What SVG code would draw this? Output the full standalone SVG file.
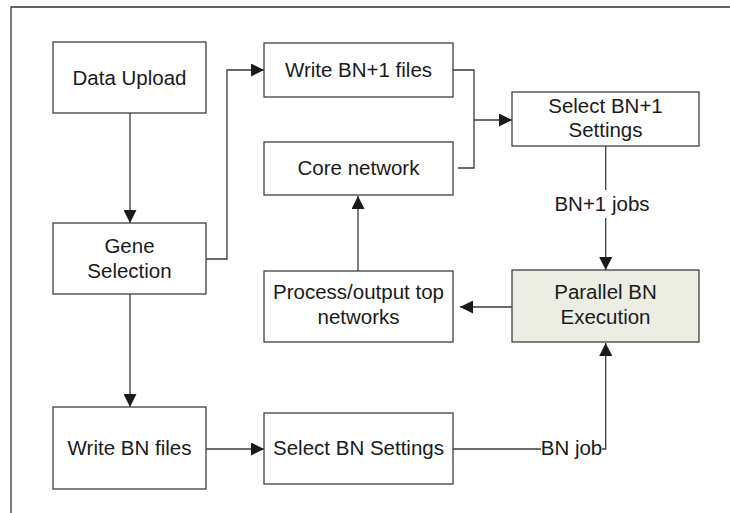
<svg xmlns="http://www.w3.org/2000/svg" width="730" height="513" viewBox="0 0 730 513">
<defs>
<marker id="ah" markerUnits="userSpaceOnUse" markerWidth="13" markerHeight="13" refX="13" refY="6.5" orient="auto">
<path d="M0,0 L13,6.5 L0,13 z" fill="#1a1a1a"/>
</marker>
<style>
.box{fill:#ffffff;stroke:#404040;stroke-width:1.3}
.hl{fill:#eceee4}
.t{font-family:"Liberation Sans",Arial,sans-serif;font-size:20.5px;fill:#1a1a1a;text-anchor:middle}
.c{fill:none;stroke:#3a3a3a;stroke-width:1.3}
.a{marker-end:url(#ah)}
</style>
</defs>
<rect x="0" y="0" width="730" height="513" fill="#ffffff"/>
<path d="M11,513 V7 H730" fill="none" stroke="#333333" stroke-width="1.3"/>
<g id="connectors">
<path class="c a" d="M130,113 V223"/>
<path class="c a" d="M130,294 V407"/>
<path class="c a" d="M206,259 H227 V70 H264"/>
<path class="c" d="M453,70 H474 V168 H458"/>
<path class="c a" d="M474,120 H512"/>
<path class="c" d="M605.7,146 V190"/>
<path class="c a" d="M605.7,218 V270"/>
<path class="c a" d="M512,307 H460"/>
<path class="c a" d="M358,271 V196"/>
<path class="c a" d="M206,449 H264"/>
<path class="c" d="M453,449 H541"/>
<path class="c a" d="M602,449 H605.7 V343"/>
<text class="t" x="602" y="211">BN+1 jobs</text>
<text class="t" x="571.5" y="455">BN job</text>
</g>
<g id="data-upload">
<rect class="box" x="53" y="42" width="153" height="71"/>
<text class="t" x="129.5" y="84.5">Data Upload</text>
</g>
<g id="gene-selection">
<rect class="box" x="53" y="223" width="153" height="71"/>
<text class="t" x="129.5" y="252.5">Gene</text>
<text class="t" x="129.5" y="277.5">Selection</text>
</g>
<g id="write-bn-files">
<rect class="box" x="53" y="407" width="153" height="82"/>
<text class="t" x="129.5" y="455">Write BN files</text>
</g>
<g id="write-bn1-files">
<rect class="box" x="264" y="43" width="189" height="54"/>
<text class="t" x="358.5" y="77">Write BN+1 files</text>
</g>
<g id="core-network">
<rect class="box" x="264" y="142" width="189" height="53"/>
<text class="t" x="358.5" y="175">Core network</text>
</g>
<g id="select-bn1-settings">
<rect class="box" x="512" y="92" width="187" height="54"/>
<text class="t" x="605.5" y="112.5">Select BN+1</text>
<text class="t" x="605.5" y="137">Settings</text>
</g>
<g id="parallel-bn">
<rect class="box hl" x="512" y="270" width="187" height="72"/>
<text class="t" x="605.5" y="299">Parallel BN</text>
<text class="t" x="605.5" y="324">Execution</text>
</g>
<g id="process-output">
<rect class="box" x="264" y="271" width="189" height="71"/>
<text class="t" x="358.5" y="299">Process/output top</text>
<text class="t" x="358.5" y="324">networks</text>
</g>
<g id="select-bn-settings">
<rect class="box" x="264" y="413" width="189" height="71"/>
<text class="t" x="358.5" y="455">Select BN Settings</text>
</g>
</svg>
